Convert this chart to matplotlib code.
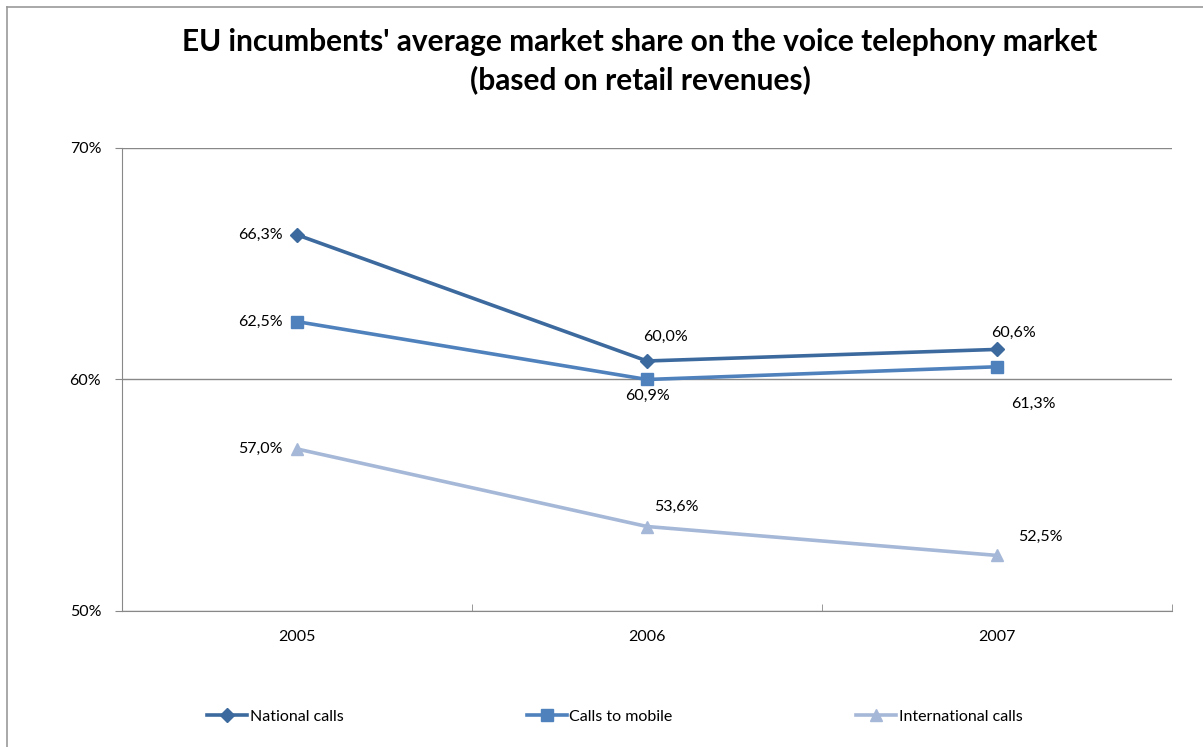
import matplotlib
matplotlib.use('Agg')
from matplotlib import pyplot as plt
from matplotlib.lines import Line2D

years = ['2005', '2006', '2007']
national = [66.25, 60.8, 61.3]
mobile = [62.5, 60.0, 60.55]
international = [57.0, 53.65, 52.4]

# labels as printed on the original chart
national_labels = ['66,3%', '60,0%', '60,6%']
mobile_labels = ['62,5%', '60,9%', '61,3%']
international_labels = ['57,0%', '53,6%', '52,5%']

plt.rcParams['font.family'] = ['Lato', 'DejaVu Sans']

fig = plt.figure(figsize=(12.03, 7.47), dpi=100)
ax = fig.add_axes([122/1203, 1-611/747, 1050/1203, 463/747])

x = list(range(len(years)))
c_nat = '#3D6A9E'
c_mob = '#4F81BD'
c_int = '#A6B8D7'
ax.plot(x, national, color=c_nat, lw=2.6, marker='D', ms=7, label='National calls')
ax.plot(x, mobile, color=c_mob, lw=2.6, marker='s', ms=8, label='Calls to mobile')
ax.plot(x, international, color=c_int, lw=2.6, marker='^', ms=8, label='International calls')

fs = 11.5
# label offsets in points (dx, dy, ha)
nat_off = [(-10, 0, 'right'), (13, 17, 'center'), (12, 12, 'center')]
mob_off = [(-10, 0, 'right'), (0, -12, 'center'), (26, -27, 'center')]
int_off = [(-10, 0, 'right'), (21, 14, 'center'), (31, 13, 'center')]
for vals, labs, offs in [(national, national_labels, nat_off),
                         (mobile, mobile_labels, mob_off),
                         (international, international_labels, int_off)]:
    for i, (v, t, o) in enumerate(zip(vals, labs, offs)):
        ax.annotate(t, (i, v), xytext=(o[0], o[1]), textcoords='offset points',
                    ha=o[2], va='center', fontsize=fs, color='black')

ax.set_xlim(-0.5, 2.5)
ax.set_ylim(50, 70)
ax.set_yticks([50, 60, 70])
ax.set_yticklabels(['50%', '60%', '70%'], fontsize=fs)
ax.set_xticks(x)
ax.set_xticklabels(years, fontsize=fs)
ax.set_xticks([-0.5, 0.5, 1.5, 2.5], minor=True)
ax.tick_params(axis='x', which='major', length=0, pad=14)
ax.tick_params(axis='x', which='minor', length=5, color='#888888', direction='in')
ax.tick_params(axis='y', length=5, color='#888888', pad=10)
ax.grid(axis='y', color='#888888', lw=1)
ax.set_axisbelow(True)
for s in ['top', 'right']:
    ax.spines[s].set_visible(False)
ax.spines['left'].set_color('#888888')
ax.spines['bottom'].set_color('#888888')

fig.text(0.532, 1-42/747, "EU incumbents' average market share on the voice telephony market",
         ha='center', va='center', fontsize=21.5, fontweight='bold')
fig.text(0.532, 1-80/747, "(based on retail revenues)",
         ha='center', va='center', fontsize=21.5, fontweight='bold')

fig.legend(loc='center', bbox_to_anchor=(0.511, 1-717/747), ncol=3, frameon=False,
           fontsize=fs, columnspacing=11.5, handlelength=2.5, handletextpad=0.15)

# outer chart border (top and left edges visible)
fig.add_artist(Line2D([7/1203, 1], [1-7/747, 1-7/747], color='#999999', lw=1.2))
fig.add_artist(Line2D([7/1203, 7/1203], [0, 1-7/747], color='#999999', lw=1.2))

plt.savefig('out.png', dpi=100)
